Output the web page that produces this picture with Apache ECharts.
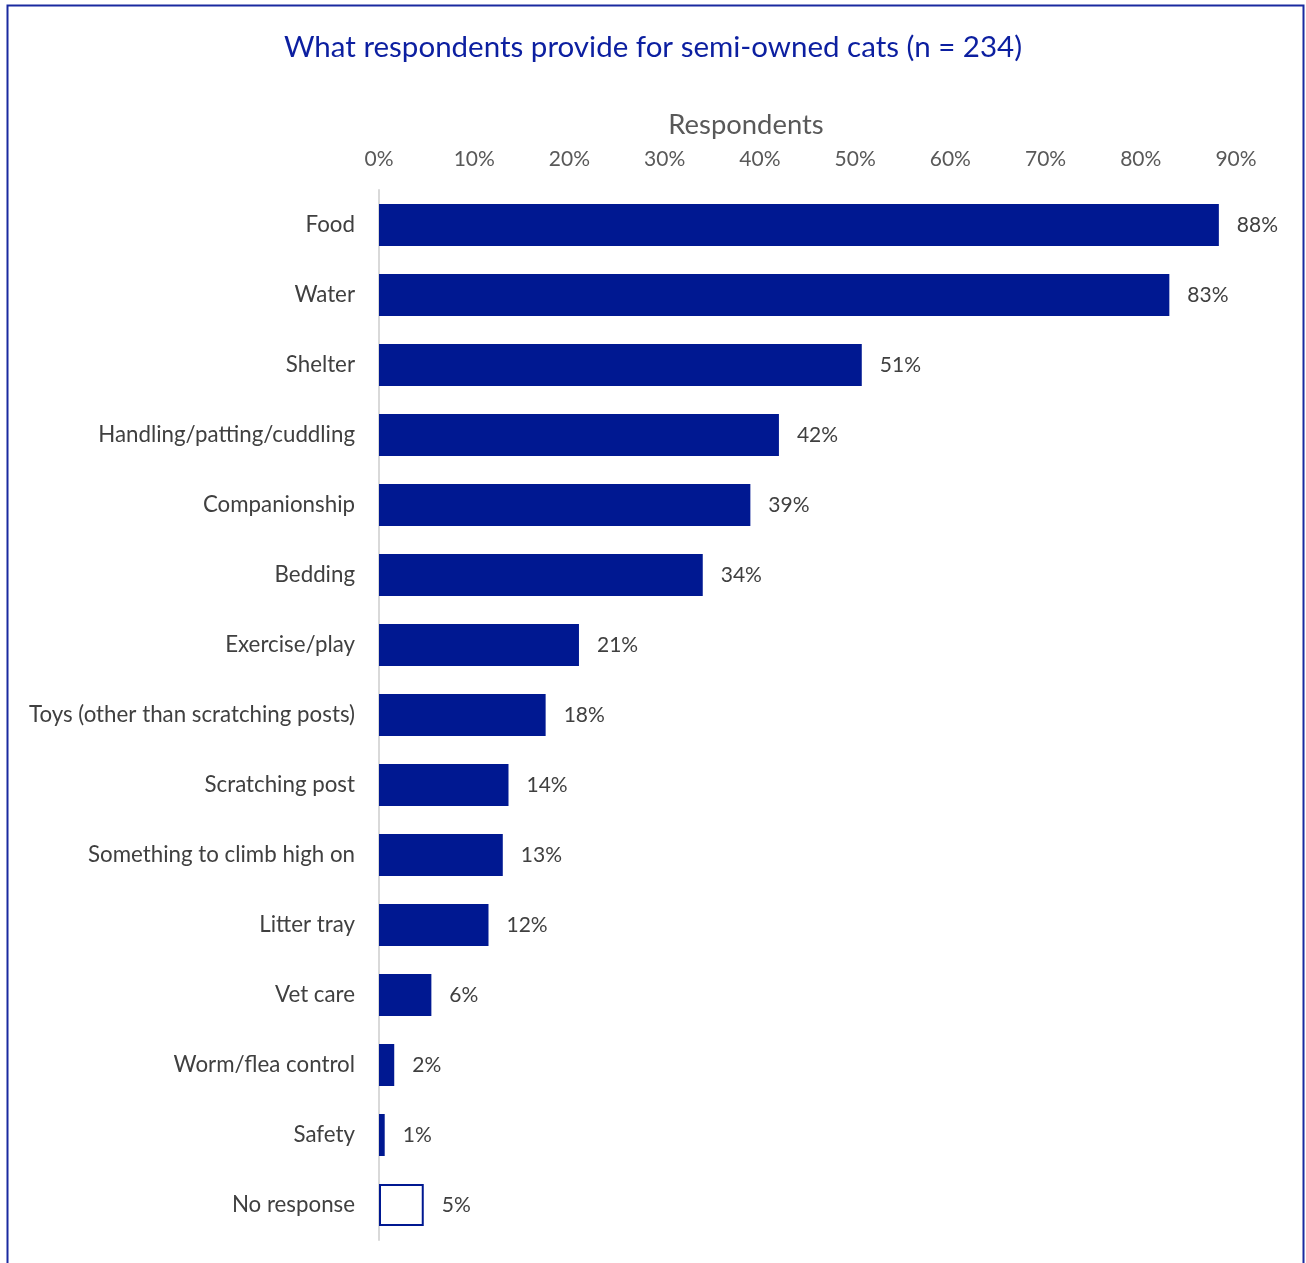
<!DOCTYPE html>
<html><head><meta charset="utf-8">
<script src="https://cdn.jsdelivr.net/npm/echarts@6/dist/echarts.min.js"></script>
<style>html,body{margin:0;padding:0;background:#fff}#c{width:1306px;height:1263px}</style>
</head><body><div id="c"></div>
<script>
const categories = ["Food","Water","Shelter","Handling/patting/cuddling","Companionship","Bedding","Exercise/play","Toys (other than scratching posts)","Scratching post","Something to climb high on","Litter tray","Vet care","Worm/flea control","Safety","No response"];
const values = [88.2,83.0,50.7,42.0,39.0,34.0,21.0,17.5,13.6,13.0,11.5,5.5,1.6,0.6,4.7];
const xTicks = [0,10,20,30,40,50,60,70,80,90];
const FONT = "Lato";
const BLUE = "#001891";
const chart = echarts.init(document.getElementById('c'), null, {renderer:'canvas'});
chart.setOption({
  animation:false,
  textStyle:{fontFamily:FONT},
  title:{text:"What respondents provide for semi-owned cats (n = 234)",left:'center',top:27,
    textStyle:{fontFamily:FONT,fontSize:29.5,fontWeight:'normal',color:'#0c1fa0'}},
  graphic:[{type:'rect',shape:{x:7.5,y:5.5,width:1296,height:1300},style:{fill:'none',stroke:'#1a2aa0',lineWidth:2},silent:true}],
  grid:{left:379,right:70,top:190,bottom:23,containLabel:false},
  xAxis:{type:'value',position:'top',min:xTicks[0],max:xTicks[xTicks.length-1],interval:10,
    name:'Respondents',nameLocation:'middle',nameGap:51,
    nameTextStyle:{fontSize:27.4,color:'#595959',padding:[0,123,0,0]},
    axisLine:{show:false},axisTick:{show:false},splitLine:{show:false},
    axisLabel:{formatter:v=>v+'%',fontSize:21,color:'#595959',margin:20}},
  yAxis:{type:'category',data:categories,inverse:true,
    axisLine:{show:true,lineStyle:{color:'#d9d9d9',width:2}},axisTick:{show:false},
    axisLabel:{fontSize:22.3,color:'#404040',margin:24}},
  series:[{type:'bar',data:values.map((v,i)=>i===values.length-1?{value:v,itemStyle:{color:'#ffffff',borderColor:BLUE,borderWidth:2}}:v),
    barCategoryGap:'40%',itemStyle:{color:BLUE},
    label:{show:true,position:'right',distance:18,fontSize:21,color:'#404040',formatter:p=>Math.round(p.value)+'%'}}]
});
</script></body></html>
